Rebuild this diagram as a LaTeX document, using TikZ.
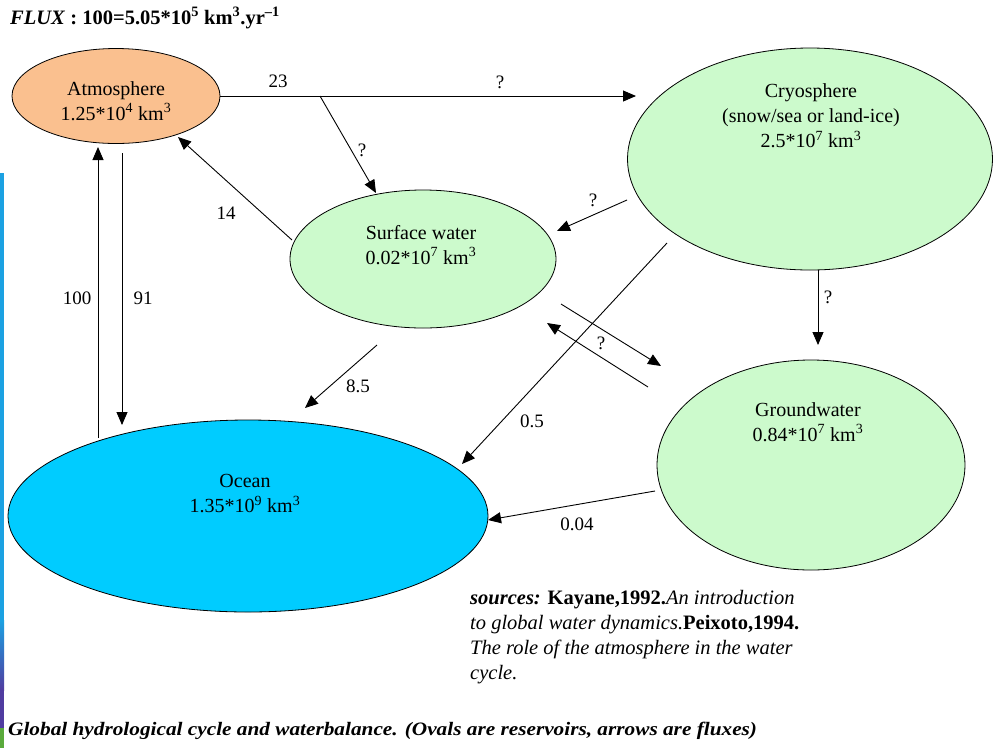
\documentclass[tikz,border=0pt]{standalone}
\usepackage{fontspec}
\setmainfont{Liberation Serif}
\usetikzlibrary{arrows.meta,shapes.geometric}
\definecolor{atmcol}{RGB}{250,192,143}
\definecolor{greencol}{RGB}{204,250,204}
\definecolor{oceancol}{RGB}{0,204,255}
\definecolor{barblue}{RGB}{27,161,226}
\definecolor{barpurple}{RGB}{80,60,160}
\definecolor{bargreen}{RGB}{90,170,60}
\begin{document}
\begin{tikzpicture}[x=1pt,y=-1pt,
  res/.style={ellipse, draw=black, line width=0.8pt, inner sep=0pt},
  lbl/.style={font=\fontsize{20}{25}\selectfont, align=center, inner sep=0pt},
  num/.style={font=\fontsize{19}{22}\selectfont, inner sep=0pt},
  flow/.style={line width=0.9pt, -{Triangle[length=13pt,width=11pt]}},
  plainline/.style={line width=0.9pt}]
\useasboundingbox (0,0) rectangle (997,748);
\fill[white] (0,0) rectangle (997,748);
% left bar
\fill[barblue] (0,173) rectangle (4,620);
\shade[top color=barblue, bottom color=barpurple] (0,620) rectangle (4,690);
\fill[barpurple] (0,690) rectangle (4,728);
\fill[bargreen] (0,728) rectangle (4,748);

% reservoirs
\node[res, fill=atmcol, minimum width=208, minimum height=95] (atm) at (116,96) {};
\node[res, fill=greencol, minimum width=365, minimum height=222] (cryo) at (810,159) {};
\node[res, fill=greencol, minimum width=266, minimum height=138] (sw) at (423,259) {};
\node[res, fill=greencol, minimum width=308, minimum height=210] (gw) at (811,465) {};
\node[res, fill=oceancol, minimum width=480, minimum height=192] (ocean) at (248,516) {};

% reservoir texts
\node[lbl] (atmtxt) at (116,101) {Atmosphere\\1.25*10\textsuperscript{4} km\textsuperscript{3}};
\node[lbl] (cryotxt) at (811,116) {Cryosphere\\(snow/sea or land-ice)\\2.5*10\textsuperscript{7} km\textsuperscript{3}};
\node[lbl] (swtxt) at (421,245) {Surface water\\0.02*10\textsuperscript{7} km\textsuperscript{3}};
\node[lbl] (gwtxt) at (808,422) {Groundwater\\0.84*10\textsuperscript{7} km\textsuperscript{3}};
\node[lbl] (oceantxt) at (245,494) {Ocean\\1.35*10\textsuperscript{9} km\textsuperscript{3}};

% connector end points
\coordinate (cryoIn) at (636,96);
\coordinate (branch) at (320,96);
\coordinate (swTop) at (376,193);
\coordinate (swLeft) at (292,240);
\coordinate (atmLow) at (178,137);
\coordinate (oceanTopA) at (98,438);
\coordinate (atmBotA) at (98,147);
\coordinate (atmBotB) at (122,153);
\coordinate (oceanTopB) at (122,425);
\coordinate (cryoOutA) at (627,200);
\coordinate (swRight) at (557,231);
\coordinate (cryoBot) at (818,270);
\coordinate (gwTop) at (818,345);
\coordinate (cryoOutB) at (667,243);
\coordinate (oceanNE) at (462,464);
\coordinate (swOutA) at (561,304);
\coordinate (gwInA) at (661,366);
\coordinate (gwOutA) at (648,387);
\coordinate (swInA) at (547,323);
\coordinate (swOutB) at (377,345);
\coordinate (oceanInB) at (305,408);
\coordinate (gwOutB) at (655,491);
\coordinate (oceanE) at (488,520);

% fluxes
\draw[flow] (atm.east) -- (cryoIn);
\draw[flow] (branch) -- (swTop);
\draw[flow] (swLeft) -- (atmLow);
\draw[flow] (oceanTopA) -- (atmBotA);
\draw[flow] (atmBotB) -- (oceanTopB);
\draw[flow] (cryoOutA) -- (swRight);
\draw[flow] (cryoBot) -- (gwTop);
\draw[flow] (cryoOutB) -- (oceanNE);
\draw[flow] (swOutA) -- (gwInA);
\draw[flow] (gwOutA) -- (swInA);
\draw[flow] (swOutB) -- (oceanInB);
\draw[flow] (gwOutB) -- (oceanE);

% flux labels
\node[num] (l23) at (278,81) {23};
\node[num] (lq1) at (500,82) {?};
\node[num] (lq2) at (362,150) {?};
\node[num] (l14) at (226,213) {14};
\node[num] (l100) at (77,298) {100};
\node[num] (l91) at (143,298) {91};
\node[num] (lq3) at (593,200) {?};
\node[num] (lq4) at (828,297) {?};
\node[num] (l05) at (532,421) {0.5};
\node[num] (lq5) at (601,343) {?};
\node[num] (l85) at (358,386) {8.5};
\node[num] (l004) at (577,524) {0.04};

% header
\node[anchor=west, inner sep=0pt, font=\fontsize{20.5}{24}\selectfont\bfseries] (hdr) at (10,18)
  {\textit{FLUX} : 100=5.05*10\textsuperscript{5} km\textsuperscript{3}.yr\textsuperscript{--1}};

% sources
\node[anchor=north west, inner sep=0pt, align=left, font=\fontsize{20.5}{25}\selectfont] (src) at (470,590)
  {\textbf{\textit{sources:}} \textbf{Kayane,1992.}\textit{An introduction}\\
   \textit{to global water dynamics.}\textbf{Peixoto,1994.}\\
   \textit{The role of the atmosphere in the water}\\
   \textit{cycle.}};

% caption
\node[anchor=west, inner sep=0pt, font=\fontsize{19}{22}\selectfont\bfseries\itshape] (cap) at (8,731)
  {\scalebox{1.12}[1]{Global hydrological cycle and waterbalance. (Ovals are reservoirs, arrows are fluxes)}};
\end{tikzpicture}
\end{document}
